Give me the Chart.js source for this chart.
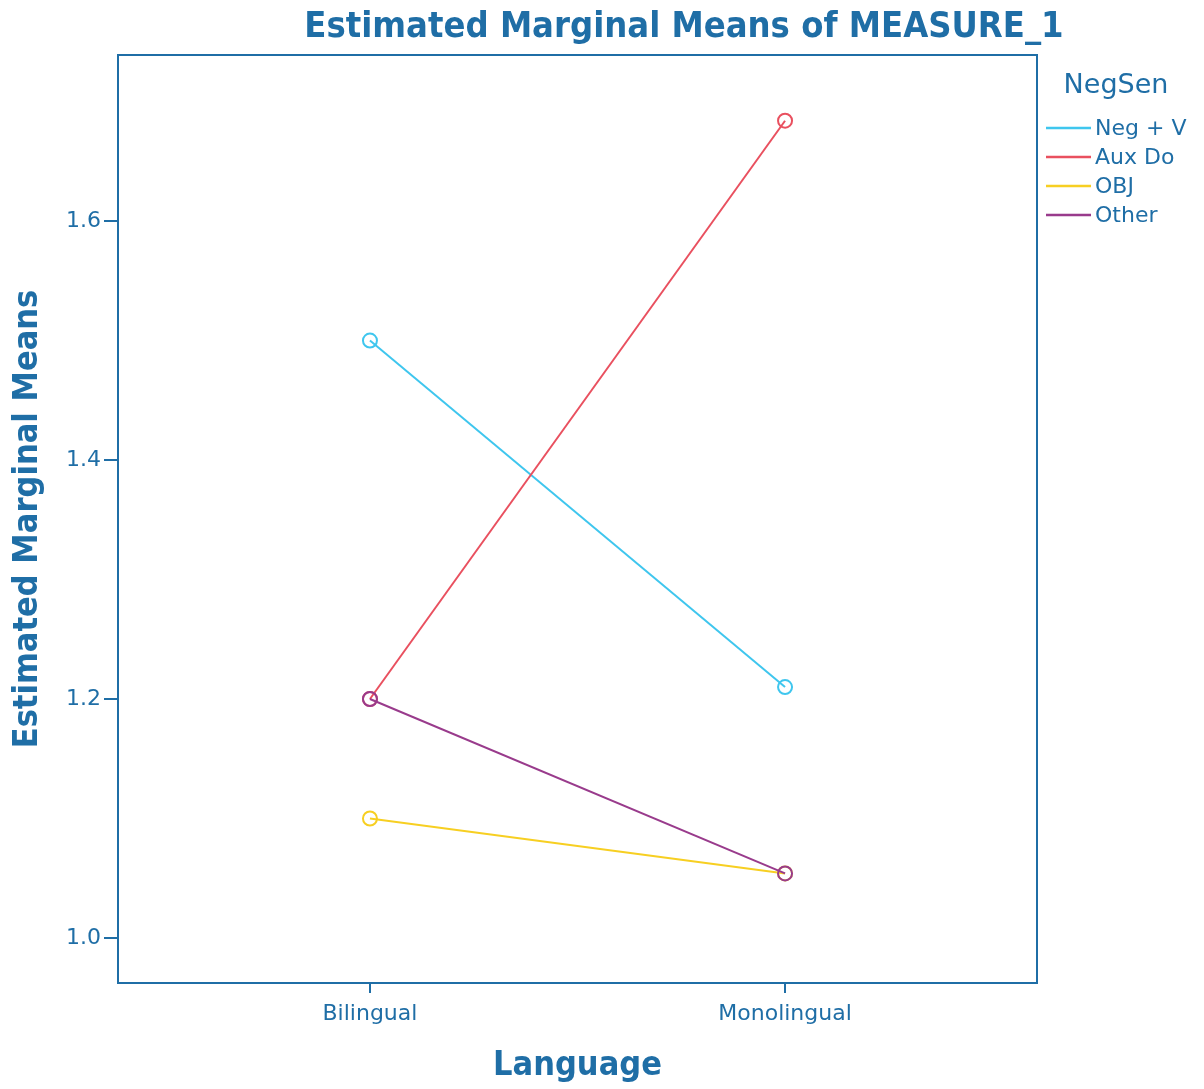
<!DOCTYPE html>
<html>
<head>
<meta charset="utf-8">
<script src="https://cdn.jsdelivr.net/npm/chart.js@4.4.1/dist/chart.umd.min.js"></script>
<style>
  html, body { margin: 0; padding: 0; background: #fff; }
  #wrap { width: 1204px; height: 1089px; position: relative; }
</style>
</head>
<body>
<div id="wrap"><canvas id="emmChart"></canvas></div>
<script>
// categories and series
const languages = ['Bilingual', 'Monolingual'];
const seriesNames = ['Neg + V', 'Aux Do', 'OBJ', 'Other'];
const negV = [1.5, 1.21];
const auxDo = [1.2, 1.684];
const obj = [1.1, 1.054];
const other = [1.2, 1.054];
const yTicks = [1.0, 1.2, 1.4, 1.6];

const blue = '#1f6ea6';
const colors = ['#3fc6ee', '#e9505f', '#f7cf22', '#993b8c'];
const values = [negV, auxDo, obj, other];

const datasets = seriesNames.map((name, i) => ({
  label: name,
  data: values[i].map((v, j) => ({ x: j, y: v })),
  order: seriesNames.length - i, // later series drawn on top
  borderColor: colors[i],
  borderWidth: 2,
  pointRadius: 7,
  pointHoverRadius: 7,
  pointBorderWidth: 2,
  pointBorderColor: colors[i],
  pointBackgroundColor: 'rgba(0,0,0,0)'
}));

// frame, title and legend
const extras = {
  id: 'extras',
  afterDraw(chart) {
    const ctx = chart.ctx;
    const a = chart.chartArea;
    ctx.save();
    ctx.strokeStyle = blue;
    ctx.lineWidth = 2;
    ctx.strokeRect(a.left, a.top, a.right - a.left, a.bottom - a.top);

    ctx.fillStyle = blue;
    ctx.font = 'bold 36px "DejaVu Sans Condensed", "DejaVu Sans"';
    ctx.textAlign = 'center';
    ctx.textBaseline = 'middle';
    ctx.fillText('Estimated Marginal Means of MEASURE_1', 684, 28);

    ctx.font = '27px "DejaVu Sans"';
    ctx.fillText('NegSen', 1116, 86);

    ctx.font = '22px "DejaVu Sans"';
    ctx.textAlign = 'left';
    chart.data.datasets.forEach((ds, i) => {
      const y = 128 + i * 29;
      ctx.strokeStyle = ds.borderColor;
      ctx.lineWidth = 2.5;
      ctx.beginPath();
      ctx.moveTo(1046, y);
      ctx.lineTo(1091, y);
      ctx.stroke();
      ctx.fillStyle = blue;
      ctx.fillText(ds.label, 1095, y + 1);
    });
    ctx.restore();
  }
};

new Chart(document.getElementById('emmChart'), {
  type: 'line',
  data: { datasets: datasets },
  plugins: [extras],
  options: {
    responsive: true,
    maintainAspectRatio: false,
    animation: false,
    layout: { padding: { top: 55, right: 167, left: 0, bottom: 0 } },
    plugins: {
      legend: { display: false },
      tooltip: { enabled: false }
    },
    scales: {
      x: {
        type: 'linear',
        min: -0.607,
        max: 1.607,
        afterBuildTicks: (scale) => { scale.ticks = languages.map((_, i) => ({ value: i })); },
        afterFit: (scale) => { scale.height = 106; },
        ticks: {
          callback: (v) => languages[v],
          color: blue,
          font: { family: '"DejaVu Sans"', size: 22 },
          padding: 8,
          maxRotation: 0
        },
        grid: { drawOnChartArea: false, drawTicks: true, tickLength: 10, color: blue, lineWidth: 2 },
        border: { display: true, color: blue, width: 2 },
        title: {
          display: true,
          text: 'Language',
          color: blue,
          font: { family: '"DejaVu Sans Condensed", "DejaVu Sans"', size: 34, weight: 'bold' },
          padding: { top: 0, bottom: 2 }
        }
      },
      y: {
        min: 0.9623,
        max: 1.739,
        afterBuildTicks: (scale) => { scale.ticks = yTicks.map(v => ({ value: v })); },
        afterFit: (scale) => { scale.width = 118; },
        ticks: {
          callback: (v) => v.toFixed(1),
          color: blue,
          font: { family: '"DejaVu Sans"', size: 22 },
          padding: 3
        },
        grid: { drawOnChartArea: false, drawTicks: true, tickLength: 14, color: blue, lineWidth: 2 },
        border: { display: true, color: blue, width: 2 },
        title: {
          display: true,
          text: 'Estimated Marginal Means',
          color: blue,
          font: { family: '"DejaVu Sans Condensed", "DejaVu Sans"', size: 34, weight: 'bold' },
          padding: { top: 8, bottom: 0 }
        }
      }
    }
  }
});
</script>
</body>
</html>
